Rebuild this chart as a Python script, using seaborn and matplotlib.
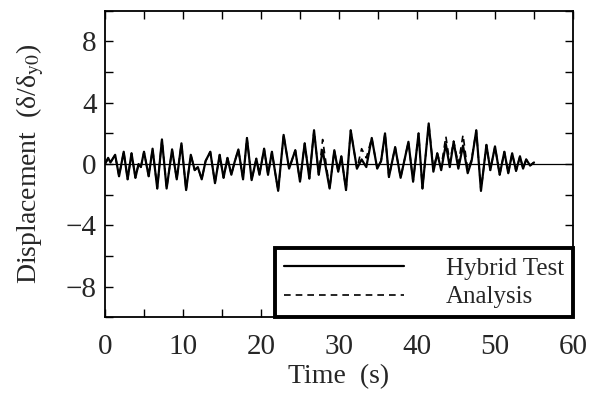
import matplotlib
matplotlib.use("Agg")
import matplotlib.pyplot as plt
import seaborn as sns
import pandas as pd
from matplotlib.ticker import MultipleLocator

# time of the plotted turning points (s)
time_s = [0.0, 0.4, 0.7, 1.3, 1.8, 2.4, 2.9, 3.4, 3.9, 4.3, 4.6, 5.0, 5.6, 6.1, 6.7, 7.3,
          7.9, 8.6, 9.2, 9.8, 10.4, 11.0, 11.5, 11.9, 12.4, 12.9, 13.5, 14.1, 14.7, 15.2,
          15.7, 16.2, 16.6, 17.1, 17.7, 18.2, 18.8, 19.4, 19.8, 20.4, 20.9, 21.4, 21.8, 22.2,
          22.9, 23.6, 24.4, 25.0, 25.6, 26.2, 26.8, 27.4, 27.9, 28.8, 29.4, 29.9, 30.3, 30.9,
          31.5, 32.3, 32.9, 33.5, 34.2, 34.9, 35.4, 35.9, 36.4, 37.2, 37.9, 38.9, 39.5, 40.2,
          40.7, 41.5, 42.1, 42.6, 43.1, 43.7, 44.2, 44.7, 45.3, 45.9, 46.5, 47.0, 47.6, 48.2,
          48.9, 49.4, 50.0, 50.6, 51.2, 51.7, 52.2, 52.7, 53.2, 53.6, 54.0, 54.5, 55.0]

hybrid_test = [0.0, 0.4, 0.1, 0.6, -0.8, 0.8, -1.0, 0.7, -0.9, 0.0, -0.2, 0.8, -0.8, 1.0, -1.6, 1.6,
               -1.6, 0.95, -1.0, 1.35, -1.7, 0.6, -0.4, -0.2, -1.0, 0.2, 0.8, -1.25, 0.6, -0.9,
               0.4, -0.7, 0.1, 0.95, -1.0, 1.7, -1.05, 0.35, -0.7, 1.0, -0.7, 0.8, -0.5, -1.75,
               1.9, -0.3, 0.9, -1.15, 1.35, -0.95, 2.2, -0.7, 0.9, -1.6, 0.9, -0.5, 0.5, -1.7,
               2.2, -0.3, 0.3, -0.2, 1.7, -0.3, 0.2, 2.0, -0.85, 1.1, -0.9, 1.45, -1.15, 2.0,
               -1.6, 2.65, -0.5, 0.7, -0.4, 1.3, -0.2, 1.45, -0.3, 1.2, -0.6, 0.2, 2.2, -1.75,
               1.25, -0.4, 1.15, -0.7, 0.8, -0.6, 0.7, -0.45, 0.5, -0.3, 0.3, -0.1, 0.1]

analysis = [0.0, 0.35, 0.1, 0.6, -0.8, 0.8, -1.0, 0.7, -0.9, 0.0, -0.2, 0.8, -0.8, 1.0, -1.6, 1.6,
            -1.6, 0.95, -1.0, 1.35, -1.7, 0.6, -0.4, -0.2, -1.0, 0.2, 0.8, -1.25, 0.6, -0.9,
            0.4, -0.7, 0.1, 0.95, -1.0, 1.7, -1.05, 0.35, -0.7, 1.0, -0.7, 0.8, -0.5, -1.75,
            1.9, -0.3, 0.9, -1.15, 1.35, -0.95, 2.2, -0.7, 1.6, -1.6, 0.9, -0.5, 0.5, -1.7,
            2.2, -0.3, 1.0, 0.4, 1.7, -0.3, 0.2, 2.0, -0.85, 1.1, -0.9, 1.45, -1.15, 2.0,
            -1.6, 2.65, -0.3, 0.7, -0.2, 1.8, 0.1, 1.5, 0.0, 1.9, -0.4, 0.3, 2.2, -1.75,
            1.25, -0.4, 1.15, -0.7, 0.8, -0.6, 0.7, -0.45, 0.5, -0.3, 0.3, -0.1, 0.1]

x_ticks = [0, 10, 20, 30, 40, 50, 60]
y_ticks = [-8, -4, 0, 4, 8]

sns.set_style("ticks")
plt.rcParams["font.family"] = ["Liberation Serif", "DejaVu Serif"]
plt.rcParams["mathtext.fontset"] = "stix"

df = pd.DataFrame({"t": time_s, "hyb": hybrid_test, "ana": analysis})

fig = plt.figure(figsize=(6.0, 4.01), dpi=100)
ax = fig.add_axes([0.175, 0.209, 0.78, 0.764])

ax.axhline(0, color="black", lw=0.9, zorder=1)
sns.lineplot(data=df, x="t", y="ana", ax=ax, color="black", lw=1.2,
             linestyle=(0, (4, 3)), label="Analysis", zorder=2)
sns.lineplot(data=df, x="t", y="hyb", ax=ax, color="black", lw=1.6,
             label="Hybrid Test", zorder=3)

ax.set_xlim(0, 60)
ax.set_ylim(-10, 10)
ax.set_xticks(x_ticks)
ax.set_yticks(y_ticks)
ax.xaxis.set_minor_locator(MultipleLocator(5))
ax.yaxis.set_minor_locator(MultipleLocator(2))
ax.tick_params(which="both", direction="in", top=True, right=True, labelsize=21,
               color="black", width=1.0, length=6)
ax.tick_params(axis="x", pad=12)
ax.tick_params(axis="y", pad=6)
for s in ax.spines.values():
    s.set_linewidth(1.3)
    s.set_color("black")

ax.set_xlabel("Time  (s)", fontsize=20, labelpad=3)
ax.set_ylabel("Displacement  (δ/δ$_{\\rm y0}$)", fontsize=20, labelpad=14)

handles, labels = ax.get_legend_handles_labels()
order = [labels.index("Hybrid Test"), labels.index("Analysis")]
leg = ax.legend([handles[i] for i in order], [labels[i] for i in order],
                loc="lower right", bbox_to_anchor=(1.0, 0.0), fontsize=18,
                frameon=True, fancybox=False, handlelength=4.8, handletextpad=1.7,
                borderpad=0.35, labelspacing=0.25, borderaxespad=0.0, edgecolor="black")
leg.get_frame().set_linewidth(2.8)
leg.get_frame().set_alpha(1)

fig.savefig("out.png", dpi=100)
